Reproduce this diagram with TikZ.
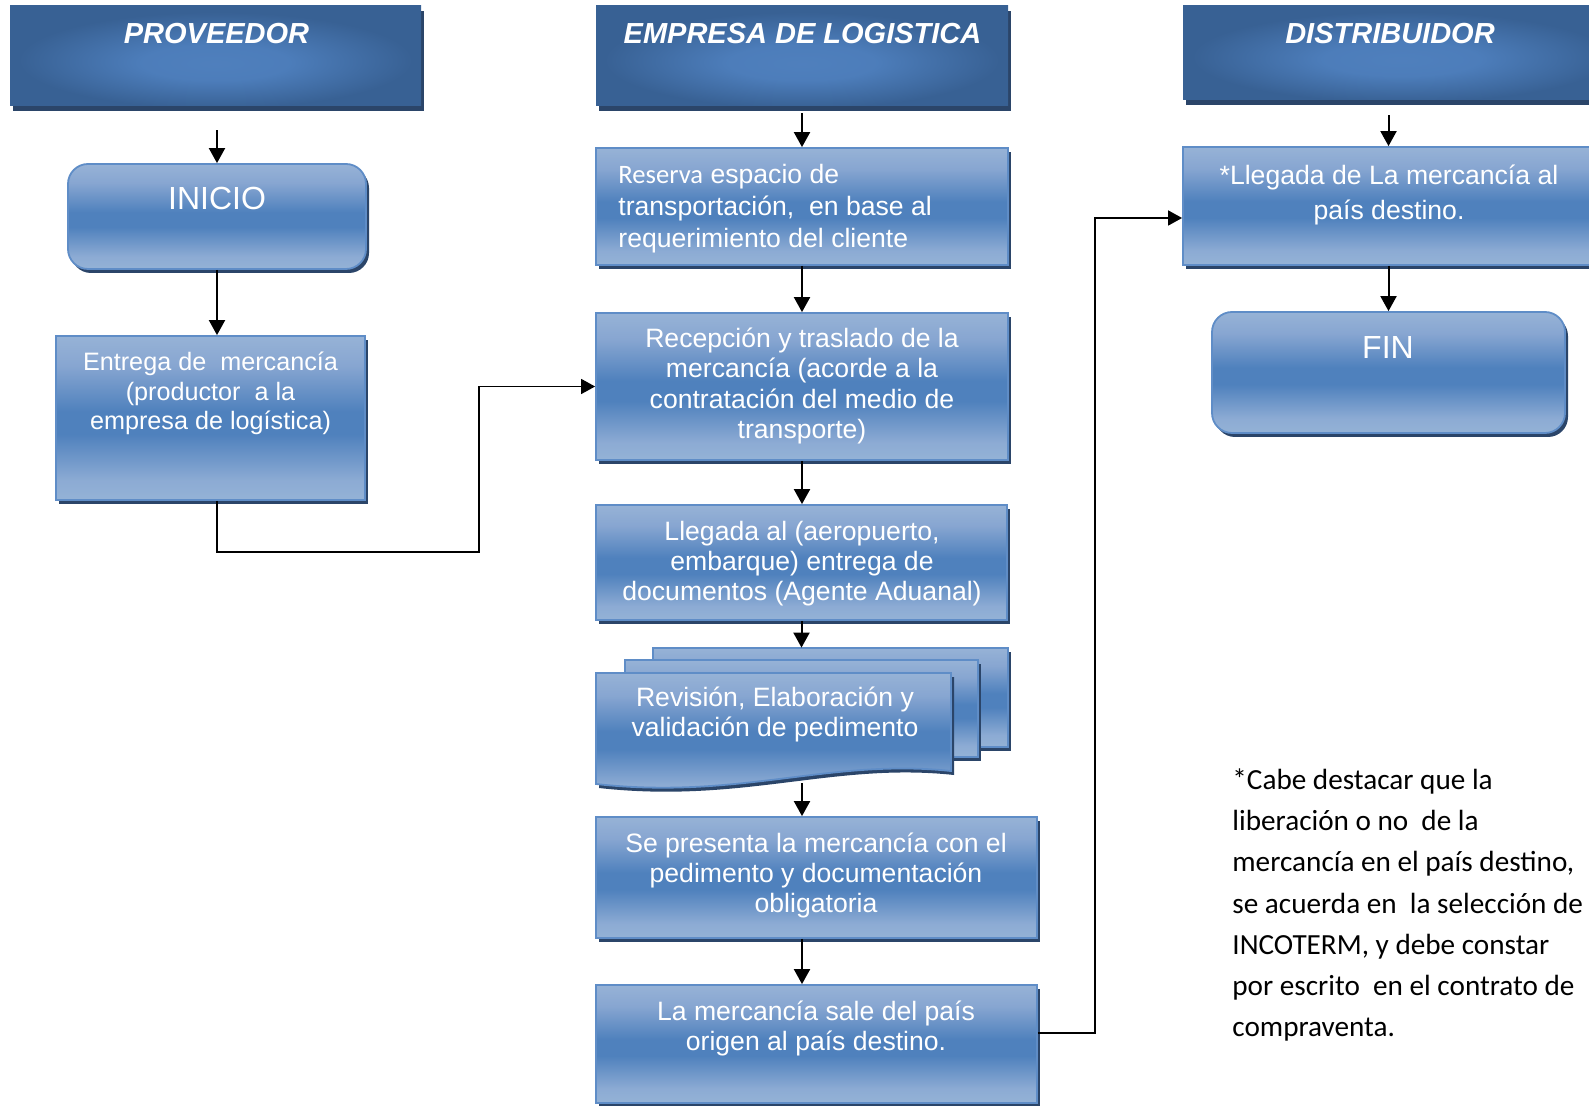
\documentclass[tikz,border=0pt]{standalone}
\usepackage{fontspec}
\setmainfont{Liberation Sans}
\newfontfamily\calib{Carlito}
\usetikzlibrary{arrows.meta,shadows,fit}
\pgfdeclareverticalshading{boxsh}{100bp}{rgb(0bp)=(0.58,0.70,0.84); rgb(25bp)=(0.58,0.70,0.84); rgb(31bp)=(0.55,0.67,0.83); rgb(45bp)=(0.31,0.506,0.741); rgb(52bp)=(0.31,0.506,0.741); rgb(66bp)=(0.53,0.65,0.82); rgb(75bp)=(0.59,0.70,0.84); rgb(100bp)=(0.59,0.70,0.84)}
\pgfdeclareradialshading{hdrsh}{\pgfpoint{0bp}{-4bp}}{rgb(0bp)=(0.31,0.50,0.74); rgb(9bp)=(0.30,0.49,0.73); rgb(24bp)=(0.22,0.38,0.58); rgb(50bp)=(0.22,0.38,0.58)}
\definecolor{shd}{HTML}{2B4569}
\definecolor{bord}{HTML}{5F8DC7}
\newcommand\tstrut{\rule{0pt}{13pt}}
\begin{document}
\begin{tikzpicture}[x=0.5pt,y=-0.5pt,
  box/.style={rectangle, inner sep=0pt, shade, shading=boxsh, draw=bord, line width=0.9pt,
    drop shadow={shadow xshift=1.5pt, shadow yshift=-2pt, opacity=1, fill=shd}},
  rbox/.style={box, rounded corners=10pt},
  hdr/.style={rectangle, inner sep=0pt, shade, shading=hdrsh,
    drop shadow={shadow xshift=1.5pt, shadow yshift=-2.5pt, opacity=1, fill=shd}},
  hdrtxt/.style={anchor=base, inner sep=0pt, text=white, font=\fontsize{14.5}{17}\selectfont\bfseries\itshape},
  txt/.style={anchor=north, inner sep=0pt, text=white, align=center, font=\fontsize{13.3}{15}\selectfont},
  bigtxt/.style={anchor=base, inner sep=0pt, text=white, font=\fontsize{16}{19}\selectfont},
  arr/.style={-{Triangle[length=7.5pt,width=8pt]}, line width=1pt, black},
  elb/.style={-{Triangle[length=7pt,width=7.5pt]}, line width=0.8pt, black},
  docpart/.style={shade, shading=boxsh, draw=bord, line width=0.9pt}
]
\useasboundingbox (0,0) rectangle (1589,1106);
\clip (0,0) rectangle (1589,1106);

% headers
\node[hdr, fit={(10,6) (421,106)}] (H1) {};
\node[hdr, fit={(596,6) (1008,106)}] (H2) {};
\node[hdr, fit={(1183,6) (1620,100)}] (H3) {};
\node[hdrtxt] (H1t) at (216.5,43.5) {PROVEEDOR};
\node[hdrtxt] (H2t) at (802.5,43.5) {EMPRESA DE LOGISTICA};
\node[hdrtxt] (H3t) at (1390,43.5) {DISTRIBUIDOR};

% proveedor column
\node[rbox, fit={(68,164) (366,269)}] (ini) {};
\node[bigtxt] (init) at (217,209.3) {INICIO};
\node[box, fit={(56,336) (365,500)}] (ent) {};
\node[txt, font=\fontsize{12.6}{14.85}\selectfont] (entt) at (210.5,344)
  {\tstrut Entrega de\ \ mercancía\\(productor\ \ a la\\empresa de logística)};

% empresa column
\node[box, fit={(596,148) (1008,265)}] (res) {};
\node[txt, anchor=north west, align=left, font=\fontsize{13.3}{15.85}\selectfont] (rest) at (618,157.3)
  {\tstrut{\calib Reserva} espacio de\\transportación,\ \ en base al\\requerimiento del cliente};
\node[box, fit={(596,313) (1008,460)}] (rec) {};
\node[txt, font=\fontsize{13.3}{15.3}\selectfont] (rect) at (802,320.7)
  {\tstrut Recepción y traslado de la\\mercancía (acorde a la\\contratación del medio de\\transporte)};
\node[box, fit={(596,505) (1007,620)}] (lle) {};
\node[txt] (llet) at (802,514)
  {\tstrut Llegada al (aeropuerto,\\embarque) entrega de\\documentos (Agente Aduanal)};

% multidocument
\begin{scope}[shift={(3,4)}]
  \fill[shd] (653,648) rectangle (1008,747);
\end{scope}
\path[docpart] (653,648) rectangle (1008,747);
\begin{scope}[shift={(3,4)}]
  \fill[shd] (625,660) rectangle (978,757);
\end{scope}
\path[docpart] (625,660) rectangle (978,757);
\begin{scope}[shift={(3,4)}]
  \fill[shd] (596,673) -- (951,673) -- (951,771) .. controls (830,758) and (740,800) .. (596,784) -- cycle;
\end{scope}
\path[docpart] (596,673) -- (951,673) -- (951,771) .. controls (830,758) and (740,800) .. (596,784) -- cycle;
\node[inner sep=0pt, fit={(596,648) (1008,790)}] (rev) {};
\coordinate (revout) at (802,783);
\node[txt] (revt) at (775,680)
  {\tstrut Revisión, Elaboración y\\validación de pedimento};

\node[box, fit={(596,817) (1037,938)}] (sep) {};
\node[txt] (sept) at (816,825.7)
  {\tstrut Se presenta la mercancía con el\\pedimento y documentación\\obligatoria};
\node[box, fit={(596,985) (1037,1103)}] (lam) {};
\node[txt] (lamt) at (816,994)
  {\tstrut La mercancía sale del país\\origen al país destino.};

% distribuidor column
\node[box, fit={(1183,147) (1620,265)}] (dll) {};
\node[txt, font=\fontsize{13.3}{17.5}\selectfont] (dllt) at (1389,158)
  {\tstrut *Llegada de La mercancía al\\país destino.};
\node[rbox, fit={(1212,312) (1565,433)}] (fin) {};
\node[bigtxt] (fint) at (1388,358.3) {FIN};

% note
\node[anchor=north west, inner sep=0pt, align=left, font=\calib\fontsize{14.6}{20.6}\selectfont] (note) at (1232,763)
  {\tstrut *Cabe destacar que la\\liberación o no\ \ de la\\mercancía en el país destino,\\se acuerda en\ \ la selección de\\INCOTERM, y debe constar\\por escrito\ \ en el contrato de\\compraventa.};

% connectors
\draw[arr, shorten <=12pt] (ini.north |- H1.south) -- (ini.north);
\draw[arr] (ini.south) -- (ini.south |- ent.north);
\draw[arr, shorten <=3.5pt] (H2.south) -- (H2.south |- res.north);
\draw[arr] (res.south) -- (res.south |- rec.north);
\draw[arr] (rec.south) -- (rec.south |- lle.north);
\draw[arr] (lle.south) -- (lle.south |- rev.north);
\draw[arr] (revout) -- (revout |- sep.north);
\draw[arr] (sep.south -| revout) -- (lam.north -| revout);
\draw[arr, shorten <=7.5pt] (fin.north |- H3.south) -- (fin.north |- dll.north);
\draw[arr] (fin.north |- dll.south) -- (fin.north);

\coordinate (cA) at (479,552);
\draw[elb] (ent.south -| ini.south) |- (cA) |- (rec.west);
\coordinate (cB) at (1095,1033);
\coordinate (cC) at (1095,218);
\draw[elb] (lam.east |- cB) -- (cB) -- (cC) -- (dll.west |- cC);
\end{tikzpicture}
\end{document}
